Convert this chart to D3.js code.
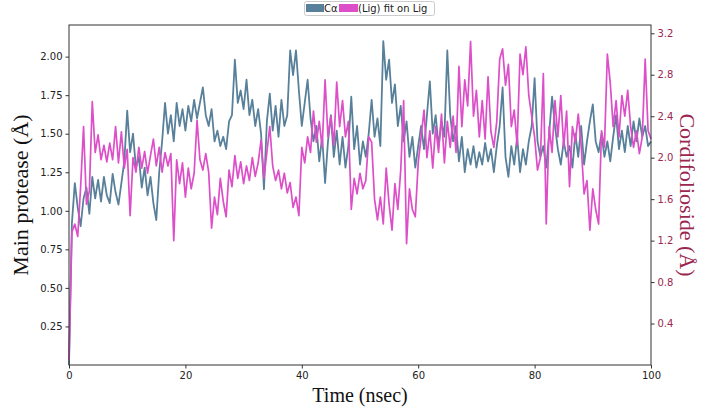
<!DOCTYPE html>
<html>
<head>
<meta charset="utf-8">
<script src="https://cdn.jsdelivr.net/npm/d3@7"></script>
<style>
  body { margin: 0; background: #fff; }
  svg { display: block; }
</style>
</head>
<body>
<svg id="chart" width="708" height="410"></svg>
<script>
// sampled every 0.5 ns, 0 .. 100
const timeStep = 0.5;

// protein C-alpha RMSD (left axis)
const proteinRmsd = [
  0.00, 0.92, 1.18, 1.02, 0.90, 1.08, 1.15, 0.98, 1.22, 1.08,
  1.20, 1.06, 1.22, 1.10, 1.05, 1.24, 1.12, 1.04, 1.18, 1.32,
  1.65, 1.38, 1.50, 1.28, 1.35, 1.15, 1.28, 1.10, 1.22, 1.05,
  0.94, 1.25, 1.45, 1.70, 1.50, 1.62, 1.45, 1.70, 1.55, 1.66,
  1.52, 1.68, 1.58, 1.72, 1.60, 1.70, 1.80, 1.62, 1.55, 1.66,
  1.45, 1.52, 1.42, 1.48, 1.40, 1.58, 1.62, 1.98, 1.70, 1.78,
  1.66, 1.85, 1.62, 1.72, 1.55, 1.66, 1.50, 1.14, 1.58, 1.76,
  1.52, 1.68, 1.48, 1.72, 1.55, 1.62, 2.04, 1.88, 2.04, 1.78,
  1.55, 1.70, 1.85, 1.60, 1.45, 1.55, 1.32, 1.48, 1.18, 1.45,
  1.62, 1.35, 1.52, 1.30, 1.48, 1.28, 1.42, 1.74, 1.40, 1.55,
  1.30, 1.45, 1.35, 1.50, 1.72, 1.48, 1.60, 1.42, 2.10, 1.85,
  1.98, 1.70, 1.82, 1.55, 1.68, 1.45, 1.58, 1.35, 1.48, 1.28,
  1.42, 1.55, 1.40, 1.62, 1.84, 1.50, 1.62, 1.42, 1.58, 1.48,
  2.04, 1.62, 1.45, 1.55, 1.32, 1.48, 1.25, 1.40, 1.30, 1.42,
  1.28, 1.38, 1.30, 1.44, 1.32, 1.40, 1.25, 1.42, 1.55, 1.80,
  1.35, 1.22, 1.42, 1.30, 1.48, 1.25, 1.40, 1.30, 1.45, 1.55,
  1.86, 1.45, 1.35, 1.42, 1.28, 1.50, 1.74, 1.55, 1.40, 1.30,
  1.45, 1.35, 1.42, 1.28, 1.50, 1.35, 1.55, 1.30, 1.45, 1.58,
  1.69, 1.45, 1.38, 1.50, 1.35, 1.45, 1.32, 1.48, 1.62, 1.40,
  1.52, 1.38, 1.55, 1.42, 1.58, 1.45, 1.60, 1.48, 1.55, 1.42,
  1.45
];

// ligand RMSD, fit on ligand (right axis)
const ligandRmsd = [
  0.05, 1.28, 1.36, 1.24, 1.72, 2.30, 1.55, 1.68, 2.54, 2.05,
  2.22, 1.98, 2.12, 1.96, 2.14, 1.98, 2.30, 1.95, 2.25, 1.90,
  2.08, 1.44, 2.00, 1.86, 2.10, 1.90, 2.06, 1.85, 2.02, 2.18,
  1.92, 2.10, 1.86, 2.05, 1.92, 2.04, 1.20, 1.98, 1.75, 1.95,
  1.62, 1.90, 1.70, 1.85, 2.36, 1.98, 1.88, 2.04, 1.86, 1.32,
  1.62, 1.45, 1.80, 1.58, 1.43, 1.88, 1.72, 2.02, 1.80, 1.96,
  1.75, 1.92, 1.78, 2.00, 1.82, 1.95, 2.17, 1.80, 2.05, 2.30,
  1.92, 1.78, 1.88, 1.70, 1.85, 1.66, 1.76, 1.52, 1.62, 1.44,
  2.10, 1.95, 2.20, 2.05, 2.45, 2.15, 2.35, 2.10, 2.75, 2.20,
  2.40, 2.12, 2.73, 2.30, 2.55, 2.20, 2.35, 1.50, 1.80, 1.65,
  1.85, 1.70, 1.78, 2.20, 2.15, 1.60, 1.40, 1.62, 1.36, 1.90,
  1.55, 1.30, 1.75, 1.50, 1.88, 2.55, 1.17, 1.70, 1.50, 1.43,
  1.95, 2.20, 2.46, 2.00, 2.26, 1.90, 2.30, 2.05, 2.42, 1.95,
  2.35, 2.10, 2.40, 2.05, 2.88, 2.30, 2.75, 2.50, 3.12, 2.40,
  2.65, 2.20, 2.55, 2.18, 2.78, 2.25, 2.10, 2.35, 2.95, 3.05,
  2.70, 2.90, 2.30, 2.46, 2.12, 3.00, 2.80, 3.07, 2.60, 2.40,
  2.20, 1.88, 2.00, 2.81, 1.36, 2.30, 2.05, 2.55, 2.20, 2.60,
  2.10, 2.45, 1.72, 2.30, 2.15, 2.42, 2.12, 1.65, 1.78, 1.30,
  1.70, 1.50, 1.36, 2.26, 2.10, 3.00, 2.72, 2.30, 2.55, 2.20,
  2.60, 2.40, 2.65, 2.30, 2.10, 2.26, 2.04, 2.20, 2.95, 2.26,
  2.18
];

const xTicks = [0, 20, 40, 60, 80, 100];
const leftTicks = [0.25, 0.5, 0.75, 1.0, 1.25, 1.5, 1.75, 2.0];
const rightTicks = [0.4, 0.8, 1.2, 1.6, 2.0, 2.4, 2.8, 3.2];

const blue = "#58809a";
const pink = "#dc4fc8";
const maroon = "#9a2750";

const margin = { top: 25, right: 57, bottom: 45, left: 69 };
const width = 708, height = 410;
const svg = d3.select("#chart");

const x = d3.scaleLinear().domain([0, 100]).range([margin.left, width - margin.right]);
const yL = d3.scaleLinear().domain([0, 2.205]).range([height - margin.bottom, margin.top]);
const yR = d3.scaleLinear().domain([0, 3.28]).range([height - margin.bottom, margin.top]);

const toPoints = vals => vals.map((v, i) => [i * timeStep, v]);

const lineL = d3.line().x(d => x(d[0])).y(d => yL(d[1]));
const lineR = d3.line().x(d => x(d[0])).y(d => yR(d[1]));

svg.append("path")
  .datum(toPoints(proteinRmsd))
  .attr("d", lineL)
  .attr("fill", "none")
  .attr("stroke", blue)
  .attr("stroke-width", 1.8)
  .attr("stroke-linejoin", "round");

svg.append("path")
  .datum(toPoints(ligandRmsd))
  .attr("d", lineR)
  .attr("fill", "none")
  .attr("stroke", pink)
  .attr("stroke-width", 1.7)
  .attr("stroke-linejoin", "round");

// frame
svg.append("rect")
  .attr("x", margin.left)
  .attr("y", margin.top)
  .attr("width", width - margin.left - margin.right)
  .attr("height", height - margin.top - margin.bottom)
  .attr("fill", "none")
  .attr("stroke", "#333")
  .attr("stroke-width", 1);

const tickFont = "'DejaVu Sans', sans-serif";

const xAxis = svg.append("g")
  .attr("transform", `translate(0,${height - margin.bottom})`)
  .call(d3.axisBottom(x).tickValues(xTicks).tickSize(3.5).tickPadding(3).tickFormat(d3.format("d")));

const leftAxis = svg.append("g")
  .attr("transform", `translate(${margin.left},0)`)
  .call(d3.axisLeft(yL).tickValues(leftTicks).tickSize(3.5).tickPadding(3).tickFormat(d3.format(".2f")));

const rightAxis = svg.append("g")
  .attr("transform", `translate(${width - margin.right},0)`)
  .call(d3.axisRight(yR).tickValues(rightTicks).tickSize(3.5).tickPadding(3).tickFormat(d3.format(".1f")));

[xAxis, leftAxis, rightAxis].forEach(g => {
  g.select(".domain").remove();
  g.selectAll("text").attr("font-family", tickFont).attr("font-size", 10).attr("fill", "#222");
  g.selectAll("line").attr("stroke", "#333");
});
rightAxis.selectAll("text").attr("fill", maroon);

// axis titles
const serif = "'Liberation Serif', 'Times New Roman', serif";
svg.append("text")
  .attr("x", (margin.left + width - margin.right) / 2)
  .attr("y", 402)
  .attr("text-anchor", "middle")
  .attr("font-family", serif)
  .attr("font-size", 20)
  .attr("fill", "#111")
  .text("Time (nsec)");

svg.append("text")
  .attr("transform", `translate(28,${(margin.top + height - margin.bottom) / 2}) rotate(-90)`)
  .attr("text-anchor", "middle")
  .attr("font-family", serif)
  .attr("font-size", 22)
  .attr("fill", "#111")
  .text("Main protease (Å)");

svg.append("text")
  .attr("transform", `translate(680,${(margin.top + height - margin.bottom) / 2}) rotate(90)`)
  .attr("text-anchor", "middle")
  .attr("font-family", serif)
  .attr("font-size", 22)
  .attr("fill", maroon)
  .text("Cordifolioside (Å)");

// legend (entries overlap, as in the original)
const legend = svg.append("g");
legend.append("rect")
  .attr("x", 304.5).attr("y", 1.5).attr("width", 130).attr("height", 14)
  .attr("fill", "#fff").attr("stroke", "#ccc").attr("rx", 2);
legend.append("rect")
  .attr("x", 306).attr("y", 4).attr("width", 18).attr("height", 8).attr("fill", blue);
legend.append("text")
  .attr("x", 324).attr("y", 12)
  .attr("font-family", tickFont).attr("font-size", 10).attr("fill", "#222")
  .text("Cα");
legend.append("rect")
  .attr("x", 339).attr("y", 4).attr("width", 19).attr("height", 8).attr("fill", pink);
legend.append("text")
  .attr("x", 358).attr("y", 12)
  .attr("font-family", tickFont).attr("font-size", 10).attr("fill", "#222")
  .text("(Lig) fit on Lig");
</script>
</body>
</html>
